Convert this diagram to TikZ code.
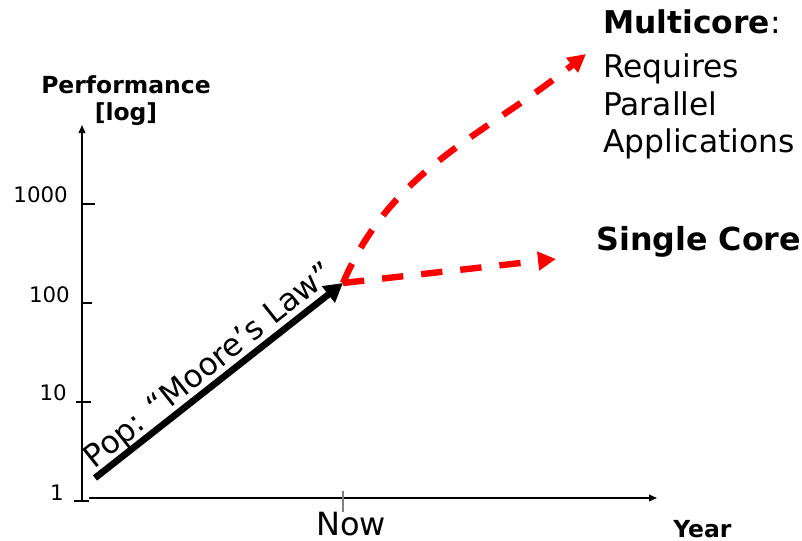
\documentclass[tikz,border=0pt]{standalone}
\usepackage{fontspec}
\setmainfont{DejaVu Sans}
\usetikzlibrary{arrows.meta}
\begin{document}
\begin{tikzpicture}[x=0.75pt,y=-0.75pt,
  axis/.style={line width=1.1pt},
  axisarrow/.style={axis,-{Triangle[length=6pt,width=5pt]}},
  tickmark/.style={line width=0.9pt},
  ticklabel/.style={font=\fontsize{16}{19}\selectfont, inner sep=0pt, anchor=base east},
  axislabel/.style={font=\bfseries\fontsize{17.6}{20}\selectfont, inner sep=0pt},
  biglabel/.style={font=\fontsize{23.5}{27}\selectfont, inner sep=0pt, anchor=base west},
  trend/.style={line width=5pt, -{Triangle[length=14pt,width=15pt]}},
  forecast/.style={red, line width=4.8pt, dash pattern=on 16pt off 13.5pt,
    -{Triangle[length=13.5pt,width=13.5pt]}},
]
\useasboundingbox (0,0) rectangle (802,540);

% axes
\coordinate (origin) at (82,502);
\coordinate (ytop) at (82,125);
\coordinate (xstart) at (89,498);
\coordinate (xend) at (657,498);
\draw[axisarrow] (origin) -- (ytop);
\draw[axisarrow] (xstart) -- (xend);

% logarithmic ticks on the performance axis
\draw[tickmark] (81,204) -- (95,204);
\draw[tickmark] (81,303) -- (92,303);
\draw[tickmark] (76,402) -- (91,402);
\draw[tickmark] (74,501) -- (89,501);
\node[ticklabel] (t1000) at (68,202) {1000};
\node[ticklabel] (t100) at (70,302) {100};
\node[ticklabel] (t10) at (67,400) {10};
\node[ticklabel] (t1) at (64,500) {1};

% "now" mark on the time axis
\draw[gray, line width=1pt] (343,491) -- (343,512);
\node[font=\fontsize{24}{27}\selectfont, inner sep=0pt, anchor=base] (nowlabel) at (351,535) {Now};

% axis titles
\node[axislabel, anchor=base] (perf) at (126,93) {Performance};
\node[axislabel, anchor=base] (logl) at (126,120) {[log]};
\node[axislabel, anchor=base west] (year) at (673,537) {Year};

% historic trend
\coordinate (past) at (95,478);
\coordinate (now) at (343,283);
\draw[trend] (past) -- (now);
\node[font=\fontsize{23.5}{27}\selectfont, inner sep=0pt, anchor=base, rotate=38.5]
  (moore) at (215,373) {Pop: “Moore’s Law”};

% two possible futures
\coordinate (multi) at (586,54);
\coordinate (single) at (556,259);
\draw[forecast] (now) .. controls (392,168) and (484,136) .. (multi);
\draw[forecast] (now) -- (single);

% outcome labels
\node[biglabel] (mc) at (603,33) {\textbf{Multicore}:};
\node[biglabel] (req) at (603,77) {Requires};
\node[biglabel] (par) at (603,115) {Parallel};
\node[biglabel] (app) at (603,152) {Applications};
\node[biglabel, font=\bfseries\fontsize{23.8}{27}\selectfont] (sc) at (596,250) {Single Core};
\end{tikzpicture}
\end{document}
